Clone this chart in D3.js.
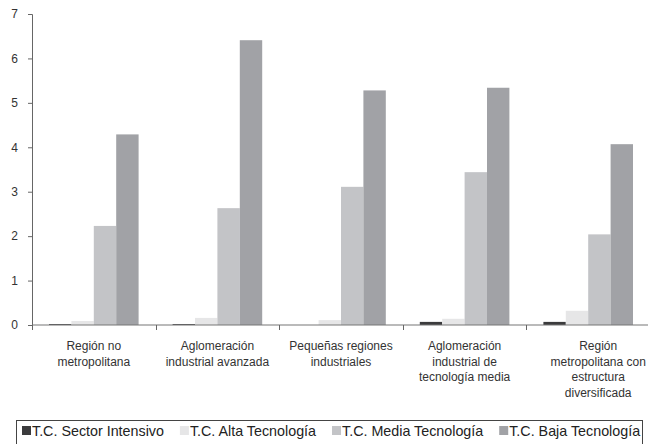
<!DOCTYPE html>
<html>
<head>
<meta charset="utf-8">
<script src="https://cdn.jsdelivr.net/npm/d3@7"></script>
<style>
  body { margin: 0; background: #fff; }
  text { font-family: "Liberation Sans", Arial, sans-serif; }
</style>
</head>
<body>
<div id="chart"></div>
<script>
let categories = [
  ["Región no", "metropolitana"],
  ["Aglomeración", "industrial avanzada"],
  ["Pequeñas regiones", "industriales"],
  ["Aglomeración", "industrial de", "tecnología media"],
  ["Región", "metropolitana con", "estructura", "diversificada"]
];
let seriesNames = ["T.C. Sector Intensivo", "T.C. Alta Tecnología", "T.C. Media Tecnología", "T.C. Baja Tecnología"];
let sectorIntensivo = [0.02, 0.02, 0.0, 0.07, 0.07];
let altaTecnologia = [0.09, 0.16, 0.11, 0.14, 0.32];
let mediaTecnologia = [2.23, 2.63, 3.11, 3.44, 2.04];
let bajaTecnologia = [4.29, 6.41, 5.28, 5.34, 4.07];
let yTicks = [0, 1, 2, 3, 4, 5, 6, 7];
let colors = ["#3b3b3d", "#e6e6e7", "#c3c4c7", "#a1a2a6"];

let series = [sectorIntensivo, altaTecnologia, mediaTecnologia, bajaTecnologia];

let W = 649, H = 444;
let margin = {top: 14, right: 0, bottom: 119, left: 32};

let svg = d3.select("#chart").append("svg")
  .attr("width", W)
  .attr("height", H);

let x = d3.scaleBand()
  .domain(d3.range(categories.length))
  .range([margin.left, 650])
  .paddingInner(0)
  .paddingOuter(0);

let xInner = d3.scaleBand()
  .domain(d3.range(series.length))
  .range([17, x.bandwidth() - 17]);

let y = d3.scaleLinear()
  .domain([0, 7])
  .range([H - margin.bottom, margin.top]);

// bars
series.forEach(function (vals, s) {
  svg.append("g")
    .selectAll("rect")
    .data(vals)
    .enter()
    .append("rect")
    .attr("x", function (d, i) { return x(i) + xInner(s); })
    .attr("y", function (d) { return y(d); })
    .attr("width", xInner.bandwidth())
    .attr("height", function (d) { return y(0) - y(d); })
    .attr("fill", colors[s]);
});

// y axis
let yAxis = svg.append("g")
  .attr("transform", "translate(" + margin.left + ",0)")
  .call(d3.axisLeft(y).tickValues(yTicks).tickSize(4).tickPadding(10).tickFormat(d3.format("d")));
yAxis.select(".domain").attr("stroke", "#666");
yAxis.selectAll(".tick line").attr("stroke", "#666");
yAxis.selectAll(".tick text")
  .attr("fill", "#333")
  .style("font-size", "12px");

// x axis baseline with ticks at category boundaries
let xAxisG = svg.append("g");
xAxisG.append("line")
  .attr("x1", margin.left)
  .attr("x2", 648)
  .attr("y1", y(0))
  .attr("y2", y(0))
  .attr("stroke", "#777")
  .attr("stroke-width", 1.2);
xAxisG.selectAll(".xt")
  .data(d3.range(categories.length))
  .enter()
  .append("line")
  .attr("class", "xt")
  .attr("x1", function (i) { return Math.round(x(i)) + 0.5; })
  .attr("x2", function (i) { return Math.round(x(i)) + 0.5; })
  .attr("y1", y(0))
  .attr("y2", y(0) + 5)
  .attr("stroke", "#666");

// category labels
let labels = svg.append("g");
categories.forEach(function (lines, i) {
  let cx = x(i) + x.bandwidth() / 2 + (i === 4 ? 10 : 0);
  let t = labels.append("text")
    .attr("text-anchor", "middle")
    .attr("fill", "#333")
    .style("font-size", "12px")
    .attr("x", cx)
    .attr("y", y(0) + 25);
  lines.forEach(function (ln, k) {
    t.append("tspan")
      .attr("x", cx)
      .attr("dy", k === 0 ? 0 : 15.5)
      .text(ln);
  });
});

// legend
let legend = svg.append("g");
legend.append("rect")
  .attr("x", 16.5)
  .attr("y", 420.5)
  .attr("width", 626)
  .attr("height", 40)
  .attr("fill", "none")
  .attr("stroke", "#444")
  .attr("stroke-width", 1);

let lx = 22;
seriesNames.forEach(function (name, s) {
  legend.append("rect")
    .attr("x", lx)
    .attr("y", 426)
    .attr("width", 9)
    .attr("height", 9)
    .attr("fill", colors[s]);
  let t = legend.append("text")
    .attr("x", lx + 10)
    .attr("y", 436)
    .attr("fill", "#222")
    .style("font-size", "14.3px")
    .text(name);
  lx += 10 + t.node().getComputedTextLength() + 16;
});
</script>
</body>
</html>
